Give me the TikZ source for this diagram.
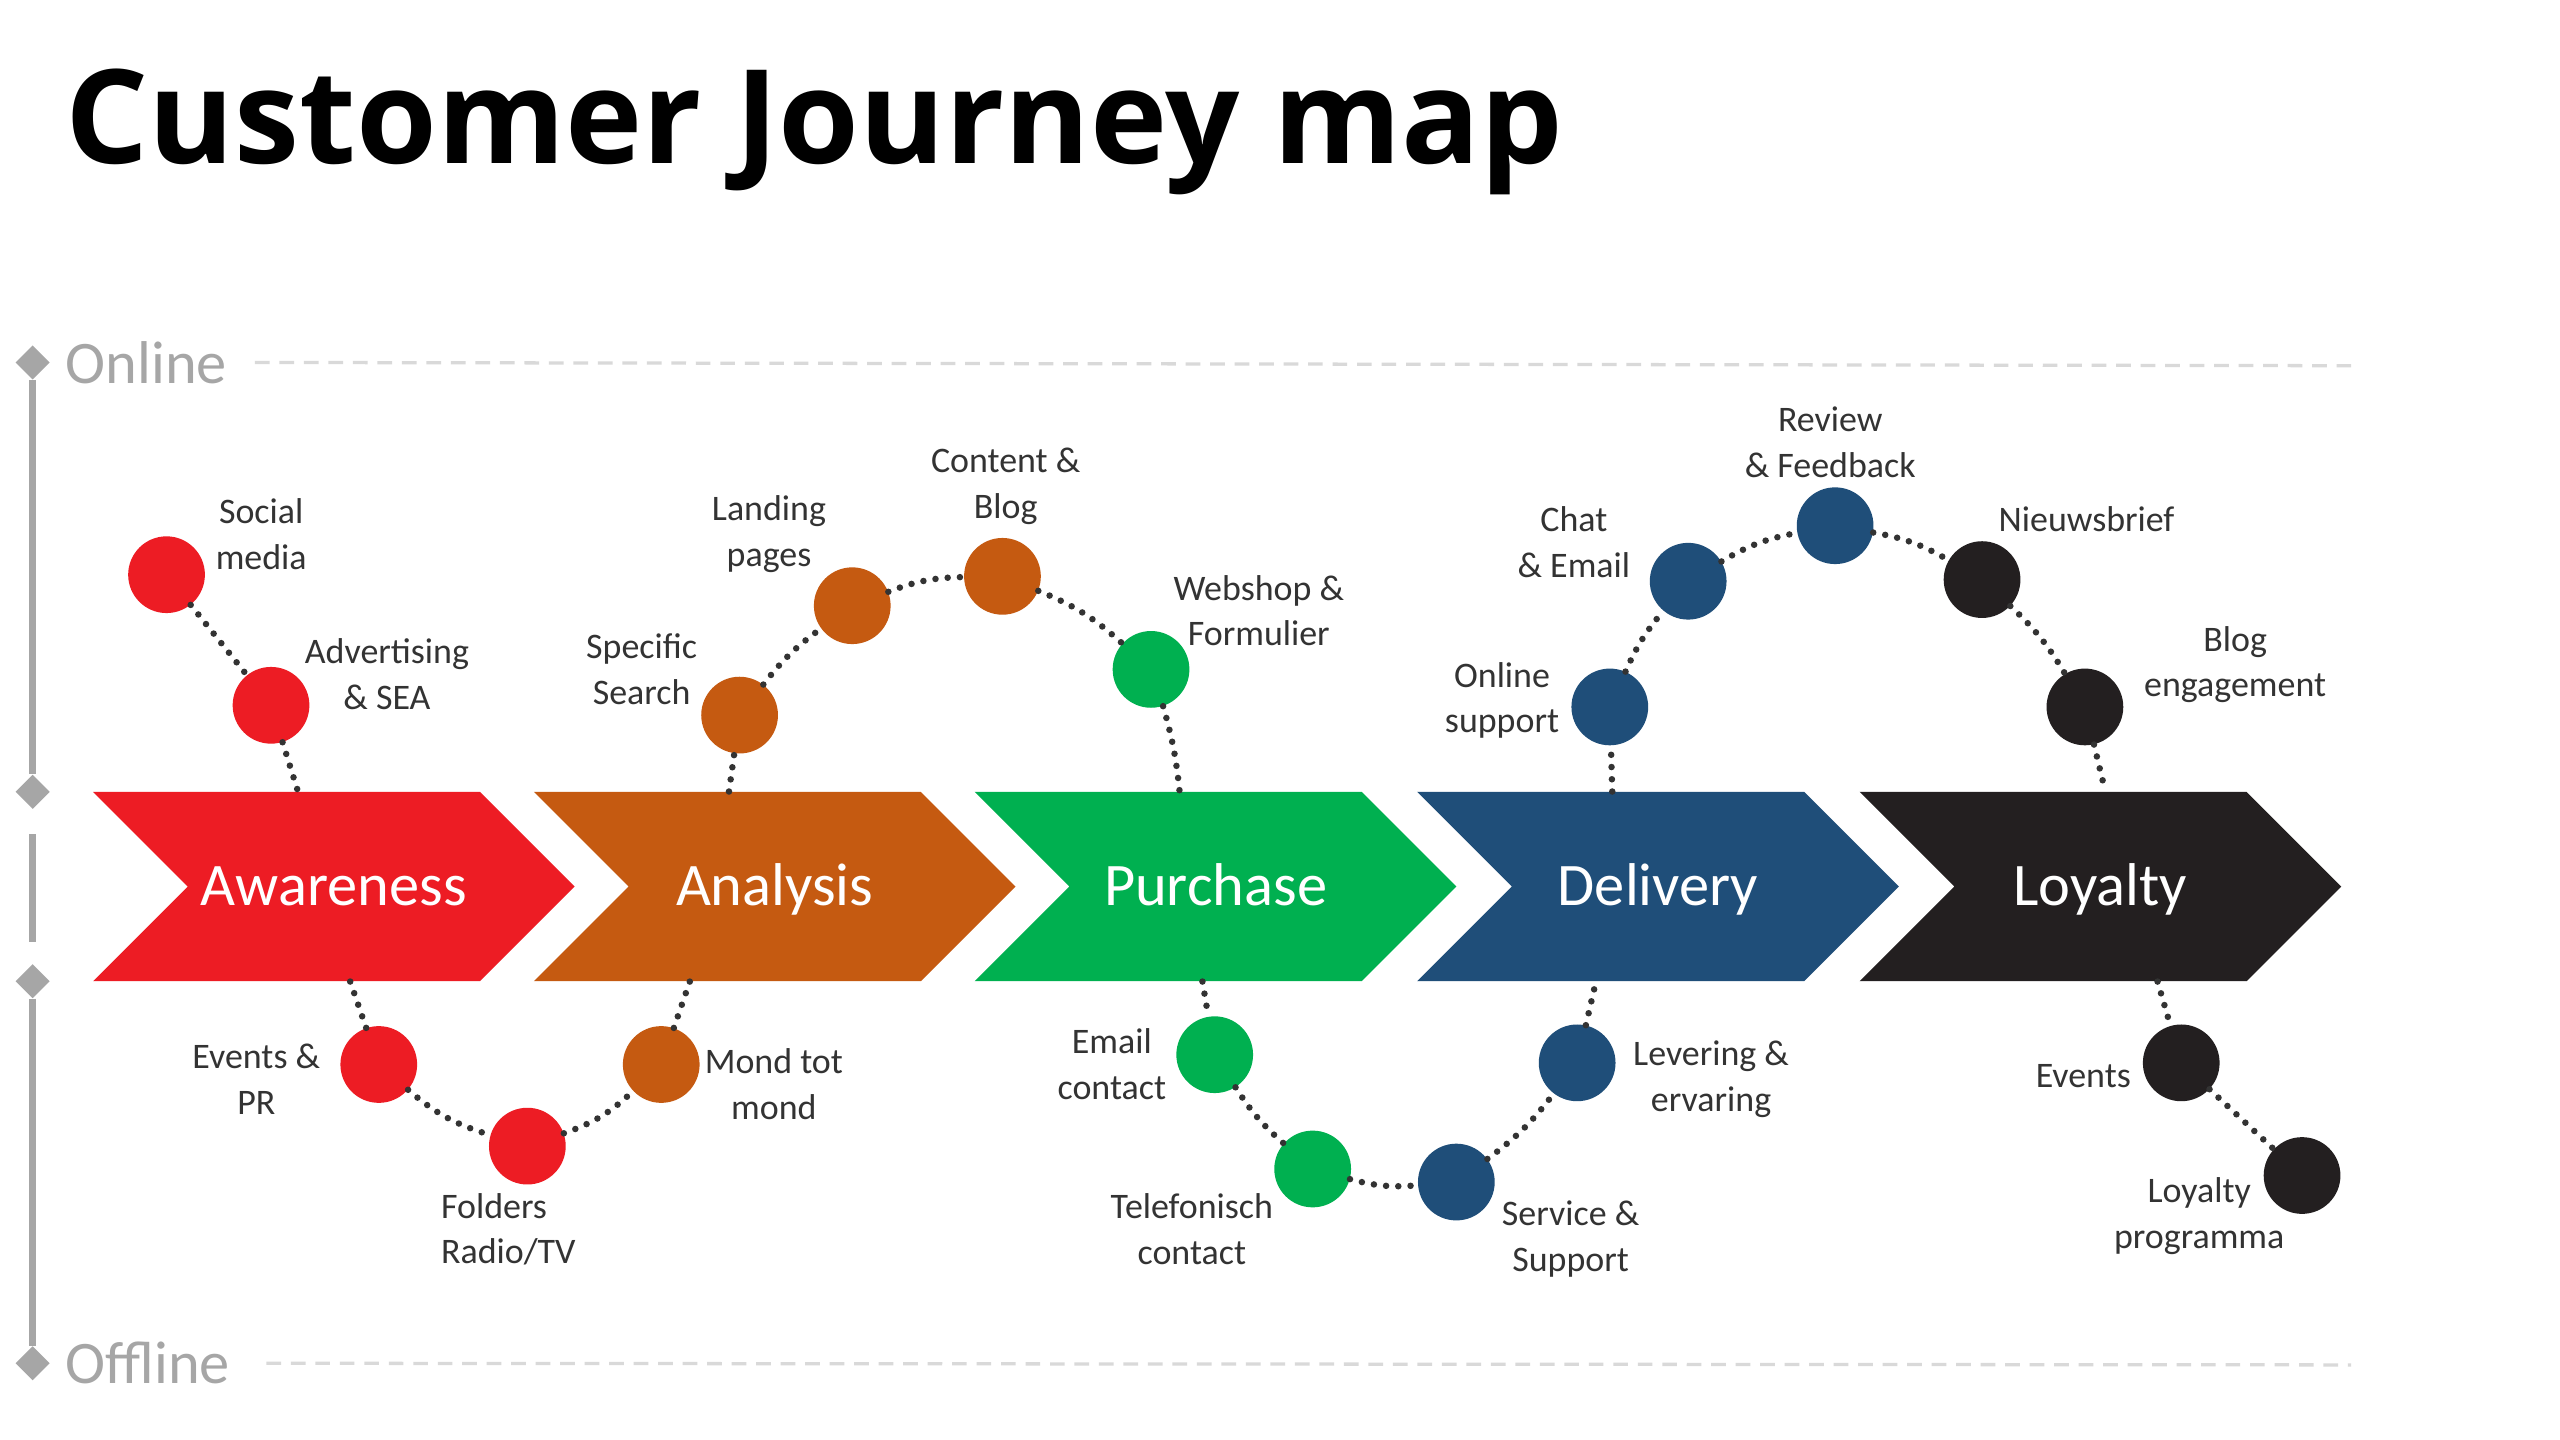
\documentclass[tikz,border=0pt]{standalone}
\usepackage{fontspec}
\setmainfont{Carlito}
\newfontfamily\titlefont{Open Sans}
\usetikzlibrary{positioning,shapes.geometric,shapes.symbols}
\definecolor{stepred}{HTML}{ED1C24}
\definecolor{steporange}{HTML}{C55A11}
\definecolor{stepgreen}{HTML}{00B050}
\definecolor{stepblue}{HTML}{1F4E79}
\definecolor{stepblack}{HTML}{231F20}
\definecolor{axisgray}{HTML}{A6A6A6}
\definecolor{dashgray}{HTML}{D9D9D9}
\definecolor{labelgray}{HTML}{333333}

\begin{document}
\begin{tikzpicture}[
  x=1pt, y=-1pt,
  phase/.style={signal, signal to=east, signal from=west, signal pointer angle=90, fill=#1, text=white, minimum width=295pt, minimum height=116pt, inner sep=0pt, text height=30pt, text depth=7pt, font=\fontsize{37}{40}\selectfont},
  touch/.style={circle, fill=#1, minimum size=47pt, inner sep=0pt},
  tag/.style={align=center, text=labelgray, inner sep=0pt, font=\fontsize{22}{28}\selectfont},
  dots/.style={draw=labelgray, line width=4pt, line cap=round, dash pattern=on 0pt off 7.5pt},
  marker/.style={diamond, fill=axisgray, inner sep=0pt, minimum width=21pt, minimum height=21pt},
  axis/.style={draw=axisgray, line width=4.5pt},
  guide/.style={draw=dashgray, line width=2pt, dash pattern=on 9pt off 6pt},
  axistext/.style={text=axisgray, inner sep=0pt, font=\fontsize{37}{40}\selectfont}
]
\fill[white] (0,0) rectangle (1568,882);
\useasboundingbox (0,0) rectangle (1568,882);

\node[anchor=base west, inner sep=0pt, font={\titlefont\bfseries\fontsize{80}{90}\selectfont}] (title) at (40,100) {Customer Journey map};

% online / offline axis
\node[marker] (dOn) at (20,222) {};
\node[marker] (dMidA) at (20,485) {};
\node[marker] (dMidB) at (20,601) {};
\node[marker] (dOff) at (20,835) {};
\coordinate (gapA) at (20,511);
\coordinate (gapB) at (20,577);
\draw[axis] (dOn) -- (dMidA);
\draw[axis] (gapA) -- (gapB);
\draw[axis] (dMidB) -- (dOff);
\node[axistext, anchor=west] (online) at (40,222) {Online};
\node[axistext, anchor=west] (offline) at (40,835) {Offline};
\coordinate (onlineEnd) at (1440,224);
\coordinate (offlineEnd) at (1440,836);
\draw[guide] ([xshift=17pt]online.east) -- (onlineEnd);
\draw[guide] ([xshift=22pt]offline.east) -- (offlineEnd);

% phases
\node[phase=stepred] (aware) at (204.5,543) {Awareness};
\node[phase=steporange] (analysis) at (474.5,543) {Analysis};
\node[phase=stepgreen] (purchase) at (744.5,543) {Purchase};
\node[phase=stepblue] (delivery) at (1015.5,543) {Delivery};
\node[phase=stepblack] (loyalty) at (1286.5,543) {Loyalty};

% touchpoints
\node[touch=stepred] (social) at (102,352) {};
\node[touch=stepred] (advert) at (166,432) {};
\node[touch=stepred] (eventspr) at (232,652) {};
\node[touch=stepred] (folders) at (323,702) {};
\node[touch=steporange] (mond) at (405,652) {};
\node[touch=steporange] (search) at (453,438) {};
\node[touch=steporange] (landing) at (522,371) {};
\node[touch=steporange] (content) at (614,353) {};
\node[touch=stepgreen] (webshop) at (705,410) {};
\node[touch=stepgreen] (email) at (744,646) {};
\node[touch=stepgreen] (phone) at (804,716) {};
\node[touch=stepblue] (service) at (892,724) {};
\node[touch=stepblue] (levering) at (966,651) {};
\node[touch=stepblue] (support) at (986,433) {};
\node[touch=stepblue] (chat) at (1034,356) {};
\node[touch=stepblue] (review) at (1124,322) {};
\node[touch=stepblack] (news) at (1214,355) {};
\node[touch=stepblack] (blog) at (1277,433) {};
\node[touch=stepblack] (events) at (1336,651) {};
\node[touch=stepblack] (program) at (1410,720) {};

% labels
\node[tag] (socialL) at (160,327) {Social\\media};
\node[tag] (advertL) at (237,413) {Advertising\\\& SEA};
\node[tag] (eventsprL) at (157,661) {Events \&\\PR};
\node[tag, align=left, anchor=west] (foldersL) at (270,753) {Folders\\Radio/TV};
\node[tag] (mondL) at (474,664) {Mond tot\\mond};
\node[tag] (searchL) at (393,410) {Specific\\Search};
\node[tag] (landingL) at (471,327) {Landing\\pages};
\node[tag] (contentL) at (616,298) {Content \&\\Blog};
\node[tag] (webshopL) at (771,374) {Webshop \&\\Formulier};
\node[tag] (emailL) at (681,652) {Email\\contact};
\node[tag] (phoneL) at (730,753) {Telefonisch\\contact};
\node[tag] (serviceL) at (962,759) {Service \&\\Support};
\node[tag] (leveringL) at (1048,661) {Levering \&\\ervaring};
\node[tag] (supportL) at (920,429) {Online\\support};
\node[tag] (chatL) at (964,332) {Chat\\\& Email};
\node[tag] (reviewL) at (1121,271) {Review\\\& Feedback};
\node[tag] (newsL) at (1278,318) {Nieuwsbrief};
\node[tag] (blogL) at (1369,407) {Blog\\engagement};
\node[tag] (eventsL) at (1276,659) {Events};
\node[tag] (programL) at (1347,745) {Loyalty\\programma};

% dotted journey
\draw[dots] (social) -- (advert);
\draw[dots] (advert) -- ([xshift=-22pt]aware.north);
\draw[dots] ([xshift=10pt]aware.south) -- (eventspr);
\draw[dots] (eventspr) to[bend right=12] (folders);
\draw[dots] (folders) to[bend right=12] (mond);
\draw[dots] (mond) -- ([xshift=-52pt]analysis.south);
\draw[dots] ([xshift=-28pt]analysis.north) -- (search);
\draw[dots] (search) to[bend left=8] (landing);
\draw[dots] (landing) to[bend left=10] (content);
\draw[dots] (content) to[bend left=10] (webshop);
\draw[dots] (webshop) to[bend left=5] ([xshift=-22pt]purchase.north);
\draw[dots] ([xshift=-8pt]purchase.south) -- (email);
\draw[dots] (email) to[bend right=8] (phone);
\draw[dots] (phone) to[bend right=10] (service);
\draw[dots] (service) to[bend right=8] (levering);
\draw[dots] (levering) -- ([xshift=-38pt]delivery.south);
\draw[dots] ([xshift=-28pt]delivery.north) -- (support);
\draw[dots] (support) to[bend left=8] (chat);
\draw[dots] (chat) to[bend left=10] (review);
\draw[dots] (review) to[bend left=10] (news);
\draw[dots] (news) to[bend left=8] (blog);
\draw[dots] (blog) -- ([xshift=3pt]loyalty.north);
\draw[dots] ([xshift=35pt]loyalty.south) -- (events);
\draw[dots] (events) -- (program);
\end{tikzpicture}
\end{document}
